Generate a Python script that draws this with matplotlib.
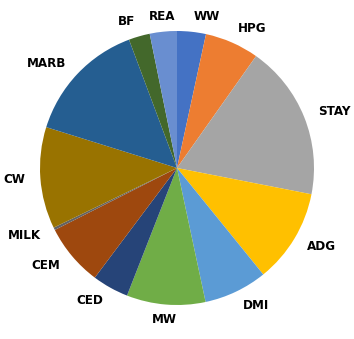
#!/bin/env python3
"""
Pie chart of trait weights.
"""
import matplotlib
matplotlib.use('Agg')
import matplotlib.pyplot as plt

# Slices clockwise from 12 o'clock, share in percent
traits = ['WW', 'HPG', 'STAY', 'ADG', 'DMI', 'MW', 'CED', 'CEM', 'MILK', 'CW', 'MARB', 'BF', 'REA']
weights = [3.4, 6.4, 18.3, 11.1, 7.5, 9.3, 4.3, 7.3, 0.3, 12.0, 14.5, 2.5, 3.2]
colors = ['#4472C4', '#ED7D31', '#A5A5A5', '#FFC000', '#5B9BD5', '#70AD47', '#264478',
          '#9E480E', '#636363', '#997300', '#255E91', '#43682B', '#698ED0']

plt.rcParams['font.family'] = ['DejaVu Sans']
plt.rcParams['font.stretch'] = 'condensed'

fig = plt.figure(figsize=(3.54, 3.39), dpi=100)
# pie centre at (177, 168) px, radius 137 px
ax = fig.add_axes([(177 - 137) / 354, (339 - 168 - 137) / 339, 274 / 354, 274 / 339])
wedges, texts = ax.pie(weights, labels=traits, colors=colors, startangle=90, counterclock=False,
                       labeldistance=1.11, wedgeprops={'linewidth': 0},
                       textprops={'fontsize': 9.5, 'fontweight': 'bold', 'color': 'black',
                                  'fontstretch': 'condensed'})
# labels right above / below the pie are centred on their slice
for i in (traits.index('MW'), traits.index('REA')):
    texts[i].set_horizontalalignment('center')
ax.set_xlim(-1, 1)
ax.set_ylim(-1, 1)
ax.set_aspect('equal')
ax.axis('off')

fig.savefig('out.png', dpi=100)
